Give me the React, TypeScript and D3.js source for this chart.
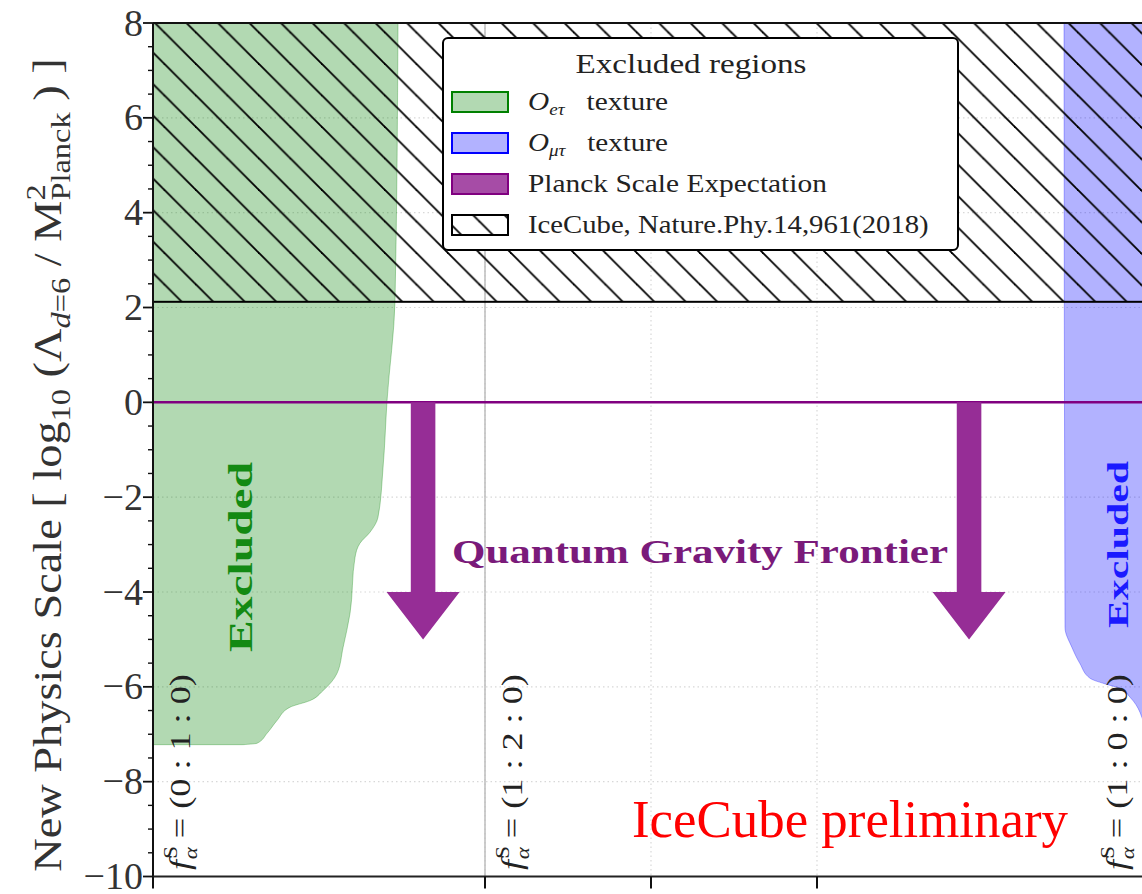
import React, { useLayoutEffect, useRef, useState } from 'react';
import * as d3 from 'd3';

const W = 1142;
const H = 894;

// Axis ticks
const yTicks = [8, 6, 4, 2, 0, -2, -4, -6, -8, -10];
const yMinorStep = 0.5;
const xTicks = [0, 2, 3, 4];

// Boundary of the O_{e tau} excluded region (x reached at each log-scale value)
const greenEdgeY = [8.0, 2.15, 0.04, -1.37, -2.43, -2.74, -2.97, -3.27, -4.45, -5.17, -5.72, -6.08, -6.29, -6.43, -6.71, -6.98, -7.19, -7.22];
const greenEdgeX = [1.476, 1.458, 1.41, 1.386, 1.355, 1.307, 1.247, 1.217, 1.187, 1.145, 1.108, 1.024, 0.946, 0.825, 0.747, 0.687, 0.627, 0.542];

// Boundary of the O_{mu tau} excluded region
const blueEdgeY = [8.0, -4.75, -5.17, -5.51, -5.82, -5.95, -6.03, -6.22, -6.54, -7.55];
const blueEdgeX = [5.488, 5.494, 5.536, 5.584, 5.645, 5.747, 5.825, 5.886, 5.946, 6.006];

// IceCube 2018 lower limit and Planck-scale expectation
const iceCubeLimit = 2.12;
const planckScale = 0;

// Quantum-gravity arrows
const arrowX = [1.627, 4.916];
const arrowTip = -5;
const arrowHead = 1;

// Source flavour compositions
const sourceX = [0, 2, 5.645];
const sourceRatios = ['(0 : 1 : 0)', '(1 : 2 : 0)', '(1 : 0 : 0)'];

const legendTitle = 'Excluded regions';
const legendLabels = ['texture', 'texture', 'Planck Scale Expectation', 'IceCube, Nature.Phy.14,961(2018)'];

const SERIF = '"Liberation Serif", "DejaVu Serif", serif';

// Text that is stretched along its reading direction to a given length.
function FitText({
  width,
  transform,
  children,
  ...rest
}: { width: number; transform: string; children: React.ReactNode } & React.SVGProps<SVGTextElement>) {
  const ref = useRef<SVGTextElement>(null);
  const [s, setS] = useState(1);
  useLayoutEffect(() => {
    if (ref.current) {
      const len = ref.current.getComputedTextLength();
      if (len > 0) setS(width / len);
    }
  }, [width]);
  return (
    <text ref={ref} transform={`${transform} scale(${s},1)`} {...rest}>
      {children}
    </text>
  );
}

export default function App() {
  const x = d3.scaleLinear().domain([0, 6.2]).range([153, 153 + 6.2 * 166]);
  const y = d3.scaleLinear().domain([-10, 8]).range([876.5, 23]);

  const green = greenEdgeY.map((v, i) => ({ y: v, x: greenEdgeX[i] }));
  const blue = blueEdgeY.map((v, i) => ({ y: v, x: blueEdgeX[i] }));

  const greenArea = d3
    .area<{ x: number; y: number }>()
    .curve(d3.curveMonotoneY)
    .y((d) => y(d.y))
    .x0(x(0))
    .x1((d) => x(d.x));

  const blueArea = d3
    .area<{ x: number; y: number }>()
    .curve(d3.curveMonotoneY)
    .y((d) => y(d.y))
    .x0((d) => x(d.x))
    .x1(x(6.2));

  const minorTicks = d3.range(-10, 8 + 1e-9, yMinorStep).filter((v) => Math.abs(v % 2) > 1e-6);

  const arrowPath = (cx: number) => {
    const sw = 0.074; // half shaft width in x units
    const hw = 0.22; // half head width
    const pts: [number, number][] = [
      [cx - sw, planckScale],
      [cx + sw, planckScale],
      [cx + sw, arrowTip + arrowHead],
      [cx + hw, arrowTip + arrowHead],
      [cx, arrowTip],
      [cx - hw, arrowTip + arrowHead],
      [cx - sw, arrowTip + arrowHead],
    ];
    return d3.line()(pts.map(([a, b]) => [x(a), y(b)])) + 'Z';
  };

  const plotTop = y(8);
  const plotBottom = y(-10);
  const hatchTop = y(8);
  const hatchBottom = y(iceCubeLimit);

  const legendX = 443;
  const legendY = 38;
  const rowY = [102, 143, 184, 225];
  const legendTextX = 528;
  const legendWidths = [140, 140, 299, 401];

  return (
    <svg
      width={W}
      height={H}
      style={{ position: 'absolute', left: 0, top: 0, background: '#fff' }}
      fontFamily={SERIF}
    >
      <defs>
        <clipPath id="plotClip">
          <rect x={x(0)} y={plotTop} width={W - x(0)} height={plotBottom - plotTop} />
        </clipPath>
        <pattern id="hatch" patternUnits="userSpaceOnUse" width={31.5} height={31.5} x={132} y={0}>
          <line x1={-2} y1={-2} x2={33.5} y2={33.5} stroke="#000" strokeWidth={1.8} />
          <line x1={-33.5} y1={-2} x2={2} y2={33.5} stroke="#000" strokeWidth={1.8} />
          <line x1={29.5} y1={-2} x2={65} y2={33.5} stroke="#000" strokeWidth={1.8} />
        </pattern>
      </defs>

      <g clipPath="url(#plotClip)">
        {/* grid */}
        {yTicks.map((t) => (
          <line key={'gy' + t} x1={x(0)} x2={W} y1={y(t)} y2={y(t)} stroke="#d8d8d8" strokeWidth={1.2} strokeDasharray="1.5,3" />
        ))}
        {xTicks.slice(1).map((t) => (
          <line key={'gx' + t} x1={x(t)} x2={x(t)} y1={plotTop} y2={plotBottom} stroke="#d8d8d8" strokeWidth={1.2} strokeDasharray="1.5,3" />
        ))}

        {/* source composition line */}
        <line x1={x(sourceX[1])} x2={x(sourceX[1])} y1={plotTop} y2={plotBottom} stroke="#bdbdbd" strokeWidth={1.5} />

        {/* excluded regions */}
        <path d={greenArea(green) || ''} fill="rgba(0,128,0,0.3)" stroke="rgba(0,128,0,0.3)" strokeWidth={1} />
        <path d={blueArea(blue) || ''} fill="rgba(0,0,255,0.3)" stroke="rgba(0,0,255,0.3)" strokeWidth={1} />

        {/* IceCube 2018 limit */}
        <rect x={x(0)} y={hatchTop} width={x(6.2) - x(0)} height={hatchBottom - hatchTop} fill="url(#hatch)" stroke="#000" strokeWidth={2} />

        {/* Planck scale */}
        <line x1={x(0)} x2={x(6.2)} y1={y(planckScale)} y2={y(planckScale)} stroke="#800080" strokeWidth={2.5} />

        {/* arrows */}
        {arrowX.map((cx) => (
          <path key={'ar' + cx} d={arrowPath(cx)} fill="#962d96" />
        ))}

        {/* source labels */}
        {sourceX.map((sx, i) => (
          <FitText
            key={'src' + i}
            width={208}
            transform={`translate(${x(sx) + 37},${870}) rotate(-90)`}
            fontSize={30}
            fill="#222"
          >
            <tspan fontStyle="italic">f</tspan>
            <tspan fontSize={19} dy={-13} dx={1}>S</tspan>
            <tspan fontSize={19} fontStyle="italic" dy={20} dx={-11}>α</tspan>
            <tspan dy={-7}>{' = ' + sourceRatios[i]}</tspan>
          </FitText>
        ))}

        <text
          transform={`translate(${x(0.6) - 0.5},${y(-3.26)}) rotate(-90)`}
          textAnchor="middle"
          fontSize={33}
          fontWeight="bold"
          fill="#138a13"
          textLength={190}
          lengthAdjust="spacingAndGlyphs"
        >
          Excluded
        </text>
        <text
          transform={`translate(${1128},${y(-3.0)}) rotate(-90)`}
          textAnchor="middle"
          fontSize={30}
          fontWeight="bold"
          fill="#1a1aff"
          textLength={167}
          lengthAdjust="spacingAndGlyphs"
        >
          Excluded
        </text>

        <text
          x={700}
          y={563}
          textAnchor="middle"
          fontSize={34}
          fontWeight="bold"
          fill="#7a1a7a"
          textLength={496}
          lengthAdjust="spacingAndGlyphs"
        >
          Quantum Gravity Frontier
        </text>

        <text x={632} y={837} fontSize={53} fill="#ff0000" fontFamily='"Liberation Serif", serif' textLength={436} lengthAdjust="spacingAndGlyphs">
          IceCube preliminary
        </text>
      </g>

      {/* spines */}
      <line x1={x(0)} x2={x(0)} y1={plotTop} y2={plotBottom} stroke="#111" strokeWidth={2} />
      <line x1={x(0)} x2={W} y1={plotBottom} y2={plotBottom} stroke="#222" strokeWidth={2} />
      <line x1={x(0)} x2={W} y1={plotTop} y2={plotTop} stroke="#111" strokeWidth={2} />

      {/* y ticks */}
      {yTicks.map((t) => (
        <g key={'yt' + t}>
          <line x1={x(0) - 10} x2={x(0)} y1={y(t)} y2={y(t)} stroke="#111" strokeWidth={1.8} />
          <text x={x(0) - 10} y={y(t) + 12.5} textAnchor="end" fontSize={38} fill="#333">
            {t < 0 ? '\u2212' + Math.abs(t) : String(t)}
          </text>
        </g>
      ))}
      {minorTicks.map((t) => (
        <line key={'ym' + t} x1={x(0) - 5} x2={x(0)} y1={y(t)} y2={y(t)} stroke="#111" strokeWidth={1.4} />
      ))}

      {/* x ticks */}
      {xTicks.map((t) => (
        <line key={'xt' + t} x1={x(t)} x2={x(t)} y1={plotBottom} y2={plotBottom + 12} stroke="#111" strokeWidth={2} />
      ))}

      {/* y axis label */}
      <FitText width={830} transform={`translate(61,465) rotate(-90)`} textAnchor="middle" fontSize={40} fill="#333">
        <tspan>New Physics Scale [ log</tspan>
        <tspan fontSize={28} dy={9}>10</tspan>
        <tspan dy={-9}> (Λ</tspan>
        <tspan fontSize={28} dy={9}>
          <tspan fontStyle="italic">d</tspan>=6
        </tspan>
        <tspan dy={-9}> / M</tspan>
        <tspan fontSize={28} dy={-16}>2</tspan>
        <tspan fontSize={28} dy={25} dx={-14}>Planck</tspan>
        <tspan dy={-9}> ) ]</tspan>
      </FitText>

      {/* legend */}
      <g>
        <rect x={legendX} y={legendY} width={515} height={212} rx={5} fill="#fff" stroke="#000" strokeWidth={2} />
        <FitText width={231} transform={`translate(691,73)`} textAnchor="middle" fontSize={28} fill="#222">
          {legendTitle}
        </FitText>
        <rect x={452} y={rowY[0] - 10} width={56} height={20} fill="rgba(0,128,0,0.3)" stroke="#008000" strokeWidth={2} />
        <rect x={452} y={rowY[1] - 10} width={56} height={20} fill="rgba(0,0,255,0.3)" stroke="#0000ff" strokeWidth={2} />
        <rect x={452} y={rowY[2] - 10} width={56} height={20} fill="rgba(128,0,128,0.7)" stroke="#800080" strokeWidth={2} />
        <rect x={452} y={rowY[3] - 10} width={56} height={20} fill="url(#hatch)" stroke="#000" strokeWidth={2} />

        {[0, 1].map((i) => (
          <FitText key={'lo' + i} width={legendWidths[i]} transform={`translate(${legendTextX},${rowY[i] + 8})`} fontSize={26} fill="#222">
            <tspan fontStyle="italic">O</tspan>
            <tspan fontSize={17} fontStyle="italic" dy={5}>{i === 0 ? 'eτ' : 'μτ'}</tspan>
            <tspan dy={-5}>{'\u2002 ' + legendLabels[i]}</tspan>
          </FitText>
        ))}
        {[2, 3].map((i) => (
          <FitText key={'lt' + i} width={legendWidths[i]} transform={`translate(${legendTextX},${rowY[i] + 8})`} fontSize={26} fill="#222">
            {legendLabels[i]}
          </FitText>
        ))}
      </g>
    </svg>
  );
}
